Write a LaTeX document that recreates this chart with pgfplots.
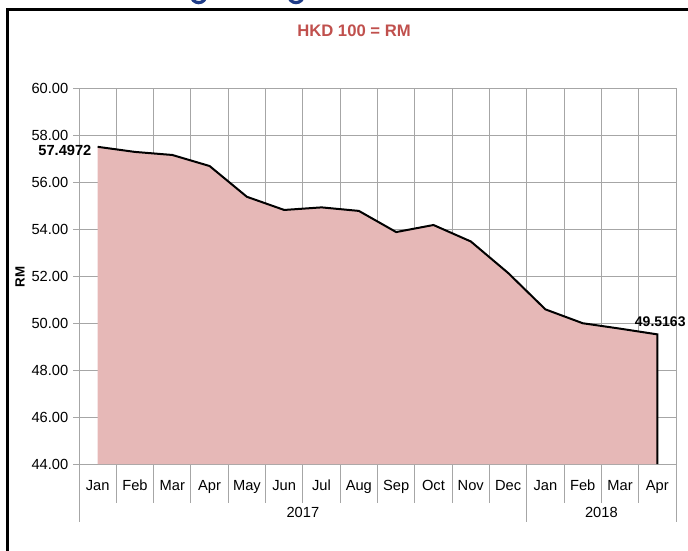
\documentclass[border=0pt]{standalone}
\usepackage{fontspec}
\setmainfont{Liberation Sans}
\usepackage{pgfplots}
\pgfplotsset{compat=1.18}
\definecolor{fillc}{HTML}{E6B8B7}
\definecolor{titlec}{HTML}{C0504D}
\definecolor{gridc}{HTML}{A6A6A6}
\definecolor{ringc}{HTML}{1F3C88}
\begin{document}
\begin{tikzpicture}
\path[use as bounding box] (0,0) rectangle (516pt,412.5pt);
% frame
\draw[line width=2.25pt] (5.25pt,-5pt) -- (5.25pt,405pt) -- (530pt,405pt);
\draw[ringc, line width=2.4pt] (149pt,416pt) circle (5.5pt);
\draw[ringc, line width=2.4pt] (222pt,416pt) circle (5.5pt);
\node[font=\bfseries\fontsize{12.5}{14}\selectfont, text=titlec] at (265.5pt,389.25pt) {HKD 100 = RM};
\node[font=\bfseries\fontsize{10}{12}\selectfont, rotate=90] at (15pt,204.75pt) {RM};
\begin{axis}[
  at={(59.25pt,64.5pt)}, anchor=south west,
  scale only axis, width=447.75pt, height=282pt,
  xmin=-0.5, xmax=15.5, ymin=44, ymax=60,
  clip=false,
  ytick={44,46,...,60},
  /pgf/number format/fixed,
  /pgf/number format/fixed zerofill,
  /pgf/number format/precision=2,
  /pgf/number format/assume math mode=true,
  yticklabel style={font=\fontsize{11}{13}\selectfont},
  xtick={0,...,15},
  xticklabels={Jan,Feb,Mar,Apr,May,Jun,Jul,Aug,Sep,Oct,Nov,Dec,Jan,Feb,Mar,Apr},
  xticklabel style={font=\fontsize{11}{13}\selectfont, anchor=base, yshift=-15.5pt},
  major x tick style={draw=none},
  minor xtick={-0.5,0.5,...,15.5},
  minor tick length=29pt,
  major tick length=4.5pt,
  tick align=outside,
  xtick pos=bottom, ytick pos=left,
  xminorgrids=true, ymajorgrids=true,
  grid style={gridc, line width=0.7pt},
  minor grid style={gridc, line width=0.7pt},
  tick style={gridc, line width=0.7pt},
  axis line style={gridc, line width=0.7pt},
]
\addplot[fill=fillc, draw=none] coordinates {
(0,44) (0,57.4972) (1,57.28) (2,57.15) (3,56.68) (4,55.37) (5,54.81) (6,54.92) (7,54.77)
(8,53.87) (9,54.17) (10,53.47) (11,52.13) (12,50.58) (13,49.99) (14,49.76) (15,49.5163) (15,44)};
\addplot[black, line width=1.5pt, mark=none] coordinates {
(0,57.4972) (1,57.28) (2,57.15) (3,56.68) (4,55.37) (5,54.81) (6,54.92) (7,54.77)
(8,53.87) (9,54.17) (10,53.47) (11,52.13) (12,50.58) (13,49.99) (14,49.76) (15,49.5163) (15,44)};
\draw[gridc, line width=0.7pt] (axis cs:-0.5,44) -- ([yshift=-43.5pt]axis cs:-0.5,44);
\draw[gridc, line width=0.7pt] (axis cs:11.5,44) -- ([yshift=-43.5pt]axis cs:11.5,44);
\draw[gridc, line width=0.7pt] (axis cs:15.5,44) -- ([yshift=-43.5pt]axis cs:15.5,44);
\node[font=\fontsize{11}{13}\selectfont] at ([yshift=-36pt]axis cs:5.5,44) {2017};
\node[font=\fontsize{11}{13}\selectfont] at ([yshift=-36pt]axis cs:13.5,44) {2018};
\node[font=\bfseries\fontsize{11}{13}\selectfont, anchor=east, inner sep=0pt] at ([xshift=-4.5pt,yshift=-3pt]axis cs:0,57.4972) {57.4972};
\node[font=\bfseries\fontsize{10.5}{12}\selectfont, anchor=west, inner sep=0pt] at ([xshift=-17pt,yshift=9.75pt]axis cs:15,49.5163) {49.5163};
\end{axis}
\end{tikzpicture}
\end{document}
